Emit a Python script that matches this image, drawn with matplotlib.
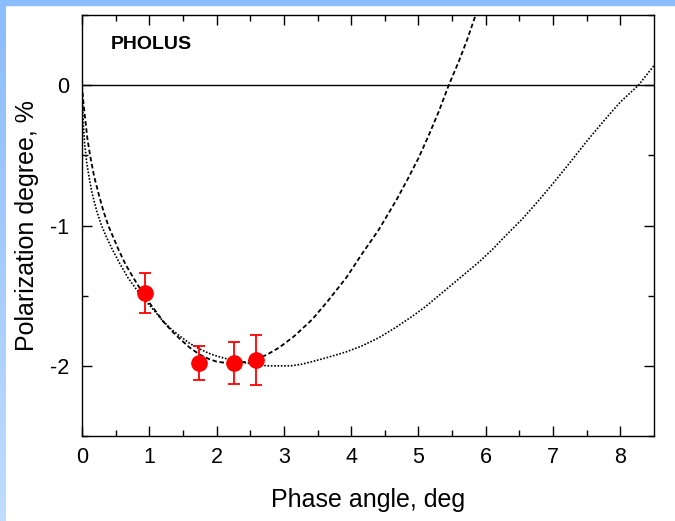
import matplotlib
matplotlib.use("Agg")
import matplotlib.pyplot as plt
from matplotlib.patches import Rectangle
import numpy as np

# Observations
obs_phase = [0.94, 1.74, 2.26, 2.59]
obs_pol = [-1.48, -1.98, -1.98, -1.96]
obs_err = [0.14, 0.12, 0.15, 0.18]

# Model curve 1 (dashed)
c1_x = [0, 0.02, 0.05, 0.08, 0.12, 0.18, 0.25, 0.32, 0.39, 0.47, 0.55, 0.65, 0.76, 0.85,
        0.95, 1.08, 1.2, 1.33, 1.46, 1.6, 1.75, 1.88, 2.0, 2.15, 2.3, 2.45, 2.6, 2.75,
        2.93, 3.15, 3.42, 3.65, 3.93, 4.15, 4.41, 4.67, 4.85, 5.0, 5.15, 5.30, 5.45,
        5.6, 5.72, 5.85]
c1_y = [0, -0.12, -0.25, -0.38, -0.5, -0.65, -0.78, -0.9, -1.0, -1.09, -1.18, -1.28,
        -1.37, -1.44, -1.52, -1.6, -1.68, -1.75, -1.81, -1.87, -1.92, -1.95, -1.97,
        -1.98, -1.98, -1.97, -1.95, -1.92, -1.87, -1.79, -1.67, -1.54, -1.37, -1.21,
        -1.03, -0.82, -0.66, -0.52, -0.36, -0.19, 0.0, 0.17, 0.32, 0.5]

# Model curve 2 (dotted)
c2_x = [0, 0.01, 0.02, 0.04, 0.07, 0.11, 0.15, 0.22, 0.29, 0.37, 0.45, 0.56, 0.68, 0.8,
        0.95, 1.08, 1.2, 1.33, 1.46, 1.6, 1.75, 1.88, 2.0, 2.15, 2.3, 2.45, 2.6, 2.75,
        2.93, 3.1, 3.25, 3.42, 3.65, 3.93, 4.15, 4.41, 4.65, 4.9, 5.1, 5.35, 5.6, 5.9,
        6.1, 6.3, 6.55, 6.79, 7.0, 7.27, 7.5, 7.78, 8.0, 8.27, 8.5]
c2_y = [0, -0.15, -0.28, -0.42, -0.55, -0.67, -0.77, -0.9, -1.0, -1.09, -1.17, -1.27,
        -1.37, -1.45, -1.54, -1.61, -1.68, -1.74, -1.79, -1.84, -1.88, -1.91, -1.93,
        -1.95, -1.97, -1.98, -1.99, -2.0, -2.0, -2.0, -1.99, -1.97, -1.94, -1.90, -1.86,
        -1.80, -1.73, -1.65, -1.58, -1.48, -1.38, -1.26, -1.17, -1.07, -0.95, -0.82,
        -0.70, -0.54, -0.40, -0.24, -0.12, 0.0, 0.14]

x_ticks = [0, 1, 2, 3, 4, 5, 6, 7, 8]
y_ticks = [0, -1, -2]

plt.rcParams['font.family'] = ['Liberation Sans', 'DejaVu Sans']

fig = plt.figure(figsize=(6.75, 5.21), dpi=100)
# blue frame
fig.patches.append(Rectangle((0, 1 - 5/521), 1, 5/521, transform=fig.transFigure,
                             color='#8bbcfb', zorder=0))
grad = np.linspace(0, 1, 100).reshape(-1, 1)
axg = fig.add_axes([0, 0, 6/675, 1 - 5/521])
axg.imshow(grad, aspect='auto', cmap=matplotlib.colors.LinearSegmentedColormap.from_list(
    'b', ['#8bbcfb', '#c0dcff']), extent=[0, 1, 0, 1])
axg.axis('off')

ax = fig.add_axes([82/675, 1 - 436/521, (654 - 82)/675, (436 - 15)/521])
ax.axhline(0, color='black', lw=1.0)
ax.plot(c1_x, c1_y, color='black', lw=1.3, ls=(0, (2.5, 1.5)))
ax.plot(c2_x, c2_y, color='black', lw=1.2, ls=(0, (1, 1)))
ax.errorbar(obs_phase, obs_pol, yerr=obs_err, fmt='o', color='red', ms=11,
            ecolor='red', elinewidth=1.3, capsize=4.5, capthick=1.3, zorder=5)

ax.set_xlim(0, 8.5)
ax.set_ylim(-2.5, 0.5)
ax.set_xticks(x_ticks)
ax.set_yticks(y_ticks)
ax.set_xticks(np.arange(0.5, 8.5, 1.0), minor=True)
ax.set_yticks([0.5, -0.5, -1.5, -2.5], minor=True)
ax.set_xticklabels([str(v) for v in x_ticks])
ax.set_yticklabels([str(v) for v in y_ticks])
ax.tick_params(which='both', direction='in', top=True, right=True, labelsize=15.5,
               width=1.0)
ax.tick_params(axis='x', which='both', pad=8)
ax.tick_params(axis='y', which='both', pad=9)
ax.tick_params(which='major', length=7)
ax.tick_params(which='minor', length=4)
for s in ax.spines.values():
    s.set_linewidth(1.0)
ax.set_xlabel('Phase angle, deg', fontsize=18, labelpad=14)
ax.set_ylabel('Polarization degree, %', fontsize=18, labelpad=8)
ax.text(0.43, 0.29, 'PHOLUS', fontsize=14, fontweight='bold', va='center', ha='left')

fig.savefig('out.png', dpi=100)
